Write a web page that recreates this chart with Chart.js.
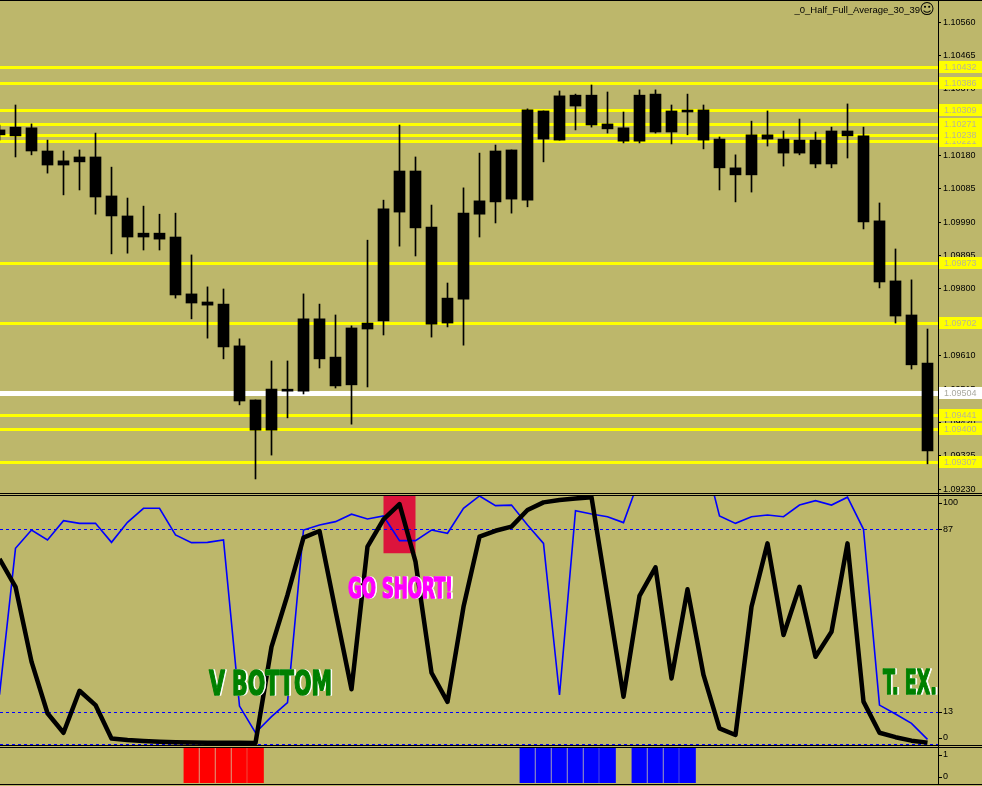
<!DOCTYPE html>
<html>
<head>
<meta charset="utf-8">
<script src="https://cdn.jsdelivr.net/npm/chart.js@4.4.0/dist/chart.umd.min.js"></script>
<style>
  html, body { margin: 0; padding: 0; background: #bdb76b; overflow: hidden; }
  #wrap { position: relative; width: 982px; height: 786px; }
  canvas { position: absolute; left: 0; }
  .hl { position: absolute; left: 0; width: 982px; height: 1px; background: #000; }
  .vl { position: absolute; top: 0; left: 938px; width: 1px; height: 785px; background: #000; }
</style>
</head>
<body>
<div id="wrap">
  <canvas id="pd-main" width="982" height="493" style="top:0"></canvas>
  <canvas id="pd-osc" width="982" height="249" style="top:496px"></canvas>
  <canvas id="pd-hist" width="982" height="35" style="top:748px"></canvas>
  <div class="hl" style="top:0"></div>
  <div class="hl" style="top:493px"></div>
  <div class="hl" style="top:495px"></div>
  <div class="hl" style="top:745px"></div>
  <div class="hl" style="top:747px"></div>
  <div class="hl" style="top:784px"></div>
  <div class="vl"></div>
</div>
<script>
// EURUSD-style candles, bar -1 is the partly hidden one on the left edge
const TITLE = '_0_Half_Full_Average_30_39';
const bars = Array.from({ length: 59 }, (_, i) => i - 1);

const openP = [
  1.10253, 1.10236, 1.10259, 1.10193, 1.10153, 1.10162, 1.10176, 1.10065, 1.10008, 1.09948,
  1.09959, 1.09948, 1.09786, 1.09763, 1.09757, 1.09638, 1.09484, 1.09398, 1.09512, 1.09509,
  1.09715, 1.09606, 1.09527, 1.09686, 1.09709, 1.10019, 1.10136, 1.09976, 1.09703, 1.09771,
  1.10013, 1.10048, 1.10196, 1.10053, 1.10307, 1.10224, 1.10352, 1.10267, 1.10270, 1.10259,
  1.10221, 1.10355, 1.10247, 1.10307, 1.10310, 1.10227, 1.10145, 1.10125, 1.10239, 1.10227,
  1.10187, 1.10224, 1.10156, 1.10250, 1.10236, 1.09994, 1.09823, 1.09726, 1.09589
];
const highP = [
  1.10267, 1.10324, 1.10270, 1.10224, 1.10193, 1.10196, 1.10244, 1.10147, 1.10059, 1.10036,
  1.10013, 1.10016, 1.09897, 1.09806, 1.09800, 1.09658, 1.09484, 1.09595, 1.09595, 1.09786,
  1.09757, 1.09726, 1.09695, 1.09939, 1.10053, 1.10267, 1.10176, 1.10039, 1.09817, 1.10088,
  1.10187, 1.10210, 1.10196, 1.10313, 1.10307, 1.10364, 1.10355, 1.10381, 1.10361, 1.10304,
  1.10367, 1.10367, 1.10324, 1.10355, 1.10324, 1.10233, 1.10182, 1.10278, 1.10307, 1.10250,
  1.10284, 1.10247, 1.10261, 1.10327, 1.10261, 1.10045, 1.09914, 1.09826, 1.09686
];
const lowP = [
  1.10224, 1.10176, 1.10182, 1.10130, 1.10068, 1.10082, 1.10013, 1.09900, 1.09902, 1.09911,
  1.09911, 1.09774, 1.09715, 1.09660, 1.09601, 1.09470, 1.09259, 1.09327, 1.09433, 1.09501,
  1.09575, 1.09518, 1.09415, 1.09521, 1.09669, 1.09922, 1.09894, 1.09663, 1.09692, 1.09640,
  1.09948, 1.09988, 1.10016, 1.10034, 1.10162, 1.10224, 1.10253, 1.10261, 1.10244, 1.10216,
  1.10216, 1.10244, 1.10213, 1.10239, 1.10199, 1.10082, 1.10048, 1.10076, 1.10207, 1.10150,
  1.10182, 1.10145, 1.10145, 1.10173, 1.09971, 1.09803, 1.09703, 1.09572, 1.09302
];
const closeP = [
  1.10239, 1.10261, 1.10193, 1.10153, 1.10165, 1.10176, 1.10062, 1.10008, 1.09948, 1.09959,
  1.09942, 1.09783, 1.09760, 1.09754, 1.09635, 1.09481, 1.09398, 1.09515, 1.09509, 1.09715,
  1.09601, 1.09524, 1.09689, 1.09703, 1.10028, 1.10136, 1.09974, 1.09700, 1.09774, 1.10016,
  1.10051, 1.10193, 1.10056, 1.10310, 1.10227, 1.10350, 1.10321, 1.10352, 1.10256, 1.10221,
  1.10352, 1.10247, 1.10307, 1.10304, 1.10224, 1.10145, 1.10125, 1.10239, 1.10227, 1.10187,
  1.10224, 1.10156, 1.10250, 1.10236, 1.09991, 1.09820, 1.09723, 1.09584, 1.09339
];

const priceTicks = [1.10560, 1.10465, 1.10370, 1.10275, 1.10180, 1.10085, 1.09990, 1.09895,
  1.09800, 1.09705, 1.09610, 1.09515, 1.09420, 1.09325, 1.09230];
const levelPrices = [1.10432, 1.10386, 1.10309, 1.10271, 1.10238, 1.10221, 1.09873, 1.09702,
  1.09441, 1.09400, 1.09307];
const pivotPrice = 1.09504;

// oscillator pane
const slowLine = [
  75, 63.7, 33.4, 12.5, 4.6, 21.6, 15.8, 2.3, 1.7, 1.3,
  1.0, 0.8, 0.7, 0.6, 0.6, 0.6, 0.5, 39.4, 60.4, 83.6,
  86.3, 54, 22.2, 80.0, 91, 97.2, 73.9, 28.9, 17.1, 55.6,
  84.0, 86.4, 88.1, 94.8, 97.9, 98.9, 99.5, 100, 59.6, 19.2,
  60.0, 71.6, 26.6, 62.7, 28.0, 6.4, 3.7, 55.6, 81.3, 44.2,
  63.7, 35.4, 45.5, 81.3, 17.2, 4.6, 2.8, 1.4, 0.6
];
const fastLine = [
  20, 79.3, 86.7, 82.7, 90.5, 89.4, 89.4, 81.7, 89.8, 95.5,
  95.5, 84.7, 81.6, 81.7, 82.7, 15.4, 4.6, 11.1, 16.8, 86.7,
  88.7, 90.1, 93.1, 91.2, 92.4, 82.4, 82.4, 86.7, 85.4, 95.5,
  100.5, 96.6, 96.8, 88.7, 81.3, 19.9, 94.5, 93.2, 92.1, 89.7,
  107.5, 110, 110, 110, 118, 92.4, 89.4, 92.1, 92.8, 92.1,
  96.8, 98.6, 96.8, 100, 87.0, 15.8, 12.2, 8.4, 1.9
];
const oscTicks = [100, 87, 13, 0];
const oscLevels = [87, 13, 0];
const shortZone = [23, 25, 77.3, 101]; // from bar, to bar, bottom, top

const noteText = ['V BOTTOM', 'GO SHORT!', 'T. EX.'];
const noteBar = [12.09, 20.78, 54.22];
const noteLevel = [19.9, 59.2, 20.3];
const noteColor = ['#008000', '#ff00ff', '#008000'];

// signal histogram
const sellBars = [11, 12, 13, 14, 15];
const buyBars = [32, 33, 34, 35, 36, 37, 39, 40, 41, 42];
const histTicks = [1, 0];

// ---- layout / style ----
const X_MIN = -0.96875, X_MAX = 57.65625;
const AXIS_W = 44;
const LABEL_FONT = '9px "Liberation Sans", Arial, sans-serif';
const NOTE_STYLE = [
  { cap: 25, width: 123 },
  { cap: 21, width: 105 },
  { cap: 25, width: 54 },
];

const xScale = { type: 'linear', min: X_MIN, max: X_MAX, offset: false, display: false };
const baseOpts = {
  responsive: false,
  animation: false,
  events: [],
  plugins: { legend: { display: false }, tooltip: { enabled: false } },
};

const levelLines = {
  id: 'levelLines',
  beforeDatasetsDraw(chart) {
    const { ctx, chartArea: a, scales: { y } } = chart;
    ctx.save();
    ctx.strokeStyle = '#ffff00';
    ctx.lineWidth = 3;
    levelPrices.forEach(function (p) {
      const py = Math.round(y.getPixelForValue(p)) + 0.5;
      ctx.beginPath();
      ctx.moveTo(a.left, py);
      ctx.lineTo(a.right, py);
      ctx.stroke();
    });
    ctx.strokeStyle = '#ffffff';
    ctx.lineWidth = 5;
    const wy = Math.round(y.getPixelForValue(pivotPrice)) + 0.5;
    ctx.beginPath();
    ctx.moveTo(a.left, wy);
    ctx.lineTo(a.right, wy);
    ctx.stroke();
    ctx.restore();
  },
  afterDraw(chart) {
    const { ctx, chartArea: a, scales: { y } } = chart;
    const all = levelPrices.map(function (p) { return { p: p, bg: '#ffff00', fg: '#bab694' }; });
    all.push({ p: pivotPrice, bg: '#ffffff', fg: '#a9a9a0' });
    all.sort(function (m, n) { return m.p - n.p; });
    ctx.save();
    ctx.font = LABEL_FONT;
    ctx.textBaseline = 'middle';
    all.forEach(function (l) {
      const py = Math.round(y.getPixelForValue(l.p));
      ctx.fillStyle = l.bg;
      ctx.fillRect(a.right + 1, py - 6, AXIS_W - 1, 12);
      ctx.fillStyle = l.fg;
      ctx.fillText(l.p.toFixed(5), a.right + 6, py + 0.5);
    });
    // indicator caption
    ctx.fillStyle = '#000';
    ctx.textAlign = 'right';
    ctx.font = '9.5px "Liberation Sans", Arial, sans-serif';
    ctx.fillText(TITLE, a.right - 18, 10);
    ctx.textAlign = 'center';
    ctx.font = '15px "DejaVu Sans", sans-serif';
    ctx.fillText('\u263A', a.right - 11, 10);
    ctx.restore();
  },
};

const sideTicks = {
  id: 'sideTicks',
  afterDraw(chart, args, opts) {
    const { ctx, chartArea: a, scales: { y } } = chart;
    ctx.save();
    ctx.font = LABEL_FONT;
    ctx.fillStyle = '#000';
    ctx.textBaseline = 'middle';
    opts.values.forEach(function (v) {
      const py = y.getPixelForValue(v);
      const ly = Math.min(Math.max(py, a.top + opts.insetTop), a.bottom - opts.insetBottom);
      ctx.fillRect(a.right + 1, Math.round(ly), 3, 1);
      ctx.fillText(String(v), a.right + 5, ly);
    });
    ctx.restore();
  },
};

const oscDecor = {
  id: 'oscDecor',
  beforeDatasetsDraw(chart) {
    const { ctx, chartArea: a, scales: { x, y } } = chart;
    ctx.save();
    ctx.beginPath();
    ctx.rect(a.left, a.top, a.right - a.left, a.bottom - a.top);
    ctx.clip();
    ctx.fillStyle = '#dc143c';
    const x0 = x.getPixelForValue(shortZone[0]);
    const x1 = x.getPixelForValue(shortZone[1]);
    const y0 = y.getPixelForValue(shortZone[3]);
    const y1 = y.getPixelForValue(shortZone[2]);
    ctx.fillRect(x0, y0, x1 - x0, y1 - y0);
    ctx.strokeStyle = '#0000ff';
    ctx.lineWidth = 1;
    ctx.setLineDash([3, 3]);
    oscLevels.forEach(function (v) {
      const py = Math.round(y.getPixelForValue(v)) + 0.5;
      ctx.beginPath();
      ctx.moveTo(a.left, py);
      ctx.lineTo(a.right, py);
      ctx.stroke();
    });
    ctx.restore();
  },
  afterDatasetsDraw(chart) {
    const { ctx, scales: { x, y } } = chart;
    ctx.save();
    ctx.lineJoin = 'round';
    noteText.forEach(function (t, i) {
      const st = NOTE_STYLE[i];
      const left = x.getPixelForValue(noteBar[i]);
      const base = y.getPixelForValue(noteLevel[i]);
      ctx.font = 'bold ' + (st.cap / 0.73).toFixed(1) + 'px "DejaVu Sans Condensed", "DejaVu Sans", sans-serif';
      const w = ctx.measureText(t).width;
      const k = st.width / w;
      ctx.save();
      ctx.translate(left, base);
      ctx.scale(k, 1);
      // white rim on the right, then the heavy coloured letters
      ctx.fillStyle = '#ffffff';
      ctx.strokeStyle = '#ffffff';
      ctx.lineWidth = 1.4;
      ctx.fillText(t, 1.6 / k, 0);
      ctx.strokeText(t, 1.6 / k, 0);
      ctx.fillStyle = noteColor[i];
      ctx.strokeStyle = noteColor[i];
      ctx.fillText(t, 0, 0);
      ctx.strokeText(t, 0, 0);
      ctx.restore();
    });
    ctx.restore();
  },
};

// main price pane
new Chart(document.getElementById('pd-main'), {
  type: 'bar',
  data: {
    datasets: [
      {
        label: 'wick',
        data: bars.map(function (b, i) { return { x: b, y: [lowP[i], highP[i]] }; }),
        backgroundColor: '#000',
        barThickness: 1,
        grouped: false,
      },
      {
        label: 'body',
        data: bars.map(function (b, i) {
          return { x: b, y: [Math.min(openP[i], closeP[i]), Math.max(openP[i], closeP[i])] };
        }),
        backgroundColor: '#000',
        barThickness: 11,
        minBarLength: 2,
        grouped: false,
      },
    ],
  },
  options: {
    ...baseOpts,
    layout: { padding: 0 },
    scales: {
      x: xScale,
      y: {
        position: 'right',
        min: 1.09219,
        max: 1.10623,
        afterBuildTicks: function (s) { s.ticks = priceTicks.map(function (v) { return { value: v }; }); },
        afterFit: function (s) { s.width = AXIS_W; s.paddingTop = 0; s.paddingBottom = 0; },
        ticks: {
          color: '#000',
          font: { family: '"Liberation Sans", Arial, sans-serif', size: 9 },
          padding: 2,
          autoSkip: false,
          callback: function (v) { return Number(v).toFixed(5); },
        },
        grid: { drawOnChartArea: false, drawTicks: true, tickLength: 3, color: '#000' },
        border: { display: false },
      },
    },
  },
  plugins: [levelLines],
});

// oscillator pane
new Chart(document.getElementById('pd-osc'), {
  type: 'line',
  data: {
    datasets: [
      {
        label: 'slow',
        data: bars.map(function (b, i) { return { x: b, y: slowLine[i] }; }),
        borderColor: '#000',
        borderWidth: 4.5,
        borderJoinStyle: 'round',
        pointRadius: 0,
        tension: 0,
        order: 0,
      },
      {
        label: 'fast',
        data: bars.map(function (b, i) { return { x: b, y: fastLine[i] }; }),
        borderColor: '#0000ff',
        borderWidth: 1.6,
        pointRadius: 0,
        tension: 0,
        order: 1,
      },
    ],
  },
  options: {
    ...baseOpts,
    layout: { padding: { right: AXIS_W } },
    scales: {
      x: xScale,
      y: { min: -0.36, max: 100.48, display: false },
    },
    plugins: {
      ...baseOpts.plugins,
      sideTicks: { values: oscTicks, insetTop: 6.5, insetBottom: 7 },
    },
  },
  plugins: [oscDecor, sideTicks],
});

// signal histogram pane
function histSet(list, color) {
  return {
    data: list.map(function (b) { return { x: b, y: 1 }; }),
    backgroundColor: color,
    borderColor: '#dcd6c0',
    borderSkipped: false,
    borderWidth: function (c) {
      const b = c.raw ? c.raw.x : null;
      return { left: 0, top: 0, bottom: 0, right: list.indexOf(b + 1) >= 0 ? 1 : 0 };
    },
    barThickness: 16,
    grouped: false,
  };
}
new Chart(document.getElementById('pd-hist'), {
  type: 'bar',
  data: { datasets: [histSet(sellBars, '#ff0000'), histSet(buyBars, '#0000ff')] },
  options: {
    ...baseOpts,
    layout: { padding: { right: AXIS_W } },
    scales: {
      x: xScale,
      y: { min: 0, max: 1, display: false },
    },
    plugins: {
      ...baseOpts.plugins,
      sideTicks: { values: histTicks, insetTop: 7, insetBottom: 6 },
    },
  },
  plugins: [sideTicks],
});
</script>
</body>
</html>
